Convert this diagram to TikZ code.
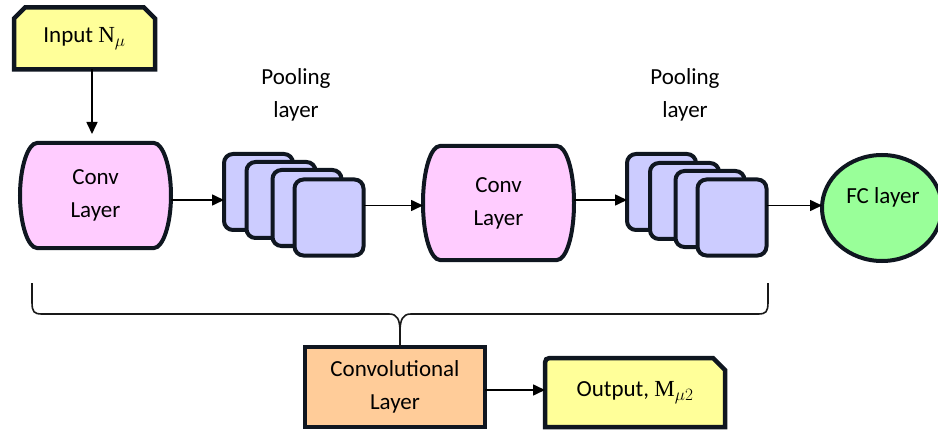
\documentclass[tikz,border=0pt]{standalone}
\usepackage{fontspec}
\setmainfont{Carlito}
\newfontfamily\serifN{Liberation Serif}
\usetikzlibrary{arrows.meta,shapes.geometric,backgrounds,calc}

\definecolor{edge}{RGB}{15,22,32}
\definecolor{inyellow}{RGB}{255,255,153}
\definecolor{convpink}{RGB}{255,204,255}
\definecolor{poolblue}{RGB}{204,204,255}
\definecolor{fcgreen}{RGB}{153,255,153}
\definecolor{clpeach}{RGB}{255,204,153}

% outline of a layer box with bulging left and right sides
\newcommand{\drumpath}[1]{%
  \draw[thickborder, fill=convpink]
    ([xshift=17pt]#1.north west) -- ([xshift=-17pt]#1.north east)
    .. controls ([xshift=-8pt]#1.north east) and ([yshift=-24pt]#1.north east) .. (#1.east)
    .. controls ([yshift=24pt]#1.south east) and ([xshift=-8pt]#1.south east) .. ([xshift=-17pt]#1.south east)
    -- ([xshift=17pt]#1.south west)
    .. controls ([xshift=8pt]#1.south west) and ([yshift=24pt]#1.south west) .. (#1.west)
    .. controls ([yshift=-24pt]#1.north west) and ([xshift=8pt]#1.north west) .. cycle;}

\begin{document}
\begin{tikzpicture}[x=1pt,y=-1pt,
  every node/.style={font=\fontsize{23}{33}\selectfont, outer sep=0pt, inner sep=0pt, align=center},
  arr/.style={line width=1.6pt, draw=black, -{Triangle[length=12pt,width=11pt]}},
  thickborder/.style={draw=edge, line width=4pt},
  poolbox/.style={thickborder, fill=poolblue, rounded corners=9pt, minimum width=69pt, minimum height=76pt},
  brace/.style={line width=1.6pt, draw=black!90},
]
\useasboundingbox (0,0) rectangle (938,433);

% text carriers of the custom outlines
\node[minimum width=141pt, minimum height=62pt] (input) at (84.5,38.5) {Input {\serifN N}$_{\mu}$};
\node[minimum width=151pt, minimum height=105pt] (conv1) at (95.5,195.5) {Conv\\Layer};
\node[minimum width=151pt, minimum height=114pt] (conv2) at (498.5,203) {Conv\\Layer};
\node[minimum width=180pt, minimum height=69pt] (out) at (635,392.5) {Output, {\serifN M}$_{\mu2}$};

\begin{pgfonlayer}{background}
  \draw[thickborder, line width=4.5pt, fill=inyellow]
    (input.south west) -- ([yshift=-11pt]input.north west) -- ([xshift=11pt]input.north west)
    -- ([xshift=-11pt]input.north east) -- ([yshift=-11pt]input.north east)
    -- (input.south east) -- cycle;
  \drumpath{conv1}
  \drumpath{conv2}
  \draw[thickborder, line width=4.5pt, fill=inyellow]
    (out.south west) -- ([yshift=-10pt]out.north west)
    .. controls (out.north west) .. ([xshift=10pt]out.north west)
    -- ([xshift=-12pt]out.north east) -- ([yshift=-12pt]out.north east)
    -- (out.south east) -- cycle;
\end{pgfonlayer}

% first pooling stack
\node[poolbox] (p1a) at (258.5,192) {};
\node[poolbox] (p1b) at (281,200) {};
\node[poolbox] (p1c) at (307,208) {};
\node[poolbox] (p1d) at (329,217.5) {};
\node (plab1) at (296,95) {Pooling\\layer};

% second pooling stack
\node[poolbox] (p2a) at (661.5,192) {};
\node[poolbox] (p2b) at (684.5,201) {};
\node[poolbox] (p2c) at (710,209) {};
\node[poolbox] (p2d) at (732,217.5) {};
\node (plab2) at (685,95) {Pooling\\layer};

% fully connected layer
\node[ellipse, thickborder, fill=fcgreen, minimum width=120pt, minimum height=106pt] (fc) at (882,208) {};
\node (fctext) at (883,197) {FC layer};

% convolutional block and output
\node[thickborder, line width=4.5pt, fill=clpeach, minimum width=180pt, minimum height=80pt] (cl) at (395,387) {Convolutional\\Layer};

% connectors
\draw[arr, shorten >=9pt] ([xshift=7.5pt]input.south) -- ([xshift=7.5pt]input.south |- conv1.north);
\draw[arr] ([yshift=-4.5pt]conv1.east) -- ([yshift=-4.5pt]conv1.east -| p1a.west);
\draw[arr] ([yshift=12pt]p1d.east) -- ([yshift=12pt]p1d.east -| conv2.west);
\draw[arr] ([yshift=3pt]conv2.east) -- ([yshift=3pt]conv2.east -| p2a.west);
\draw[arr] ([yshift=12pt]p2d.east) -- ([yshift=12pt]p2d.east -| fc.west);
\draw[arr] ([yshift=-3pt]cl.east) -- ([yshift=-3pt]cl.east -| out.west);

% brace grouping the convolutional part
\coordinate (bl) at (32,283);
\coordinate (br) at (768,283);
\coordinate (bt) at ([xshift=5pt]cl.north);
\draw[brace] (bl) -- (32,302) .. controls (32,312) and (34,314) .. (42,314)
  -- (389,314) .. controls (397,314) and (400,319) .. (400,332) -- (bt);
\draw[brace] (br) -- (768,302) .. controls (768,312) and (766,314) .. (758,314)
  -- (411,314) .. controls (403,314) and (400,319) .. (400,332);
\end{tikzpicture}
\end{document}
